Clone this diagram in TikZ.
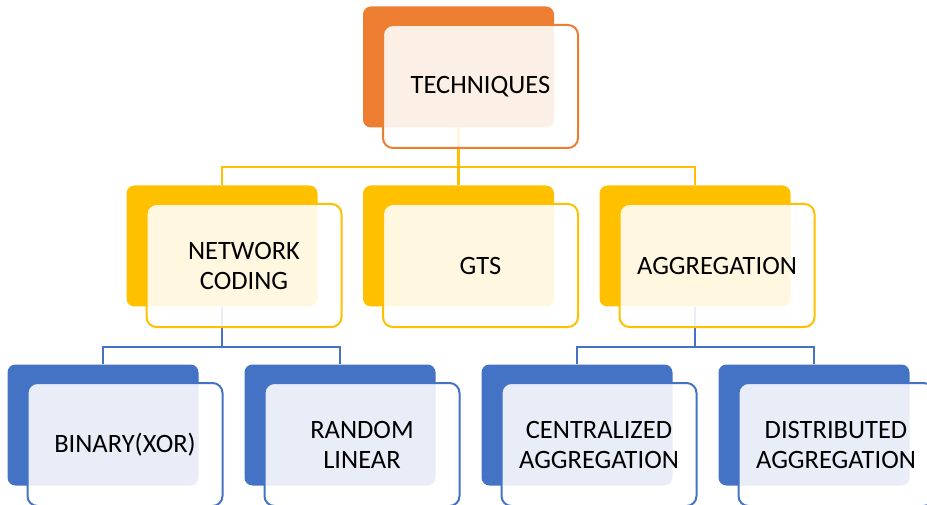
\documentclass[tikz,border=0pt]{standalone}
\usepackage{fontspec}
\setmainfont{Carlito}
\usetikzlibrary{positioning}
\definecolor{techorange}{HTML}{ED7D31}
\definecolor{techyellow}{HTML}{FFC000}
\definecolor{techblue}{HTML}{4472C4}
\tikzstyle{back} = [rectangle, rounded corners=8pt, inner sep=0pt,
    minimum width=191pt, minimum height=121pt]
\tikzstyle{front} = [rectangle, draw, line width=2pt, rounded corners=10pt,
    fill=white, fill opacity=0.88, text opacity=1, inner sep=0pt,
    minimum width=195pt, minimum height=123pt, align=center,
    font=\fontsize{26.5}{30}\selectfont, xshift=22pt, yshift=-19.5pt]
\tikzstyle{line} = [draw, line width=2.2pt]

\begin{document}
\begin{tikzpicture}[node distance=179pt, auto]
		\useasboundingbox (0,0) rectangle (927pt,-505pt);
		% back blocks
		\node [back, fill=techorange] (techb) at (458.5pt,-67pt) {};
		\node [back, fill=techyellow, below of=techb] (gtsb) {};
		\node [back, fill=techyellow, node distance=236.5pt, left of=gtsb] (ncb) {};
		\node [back, fill=techyellow, node distance=236.5pt, right of=gtsb] (aggb) {};
		\node [back, fill=techblue, below of=ncb, xshift=-119pt] (binb) {};
		\node [back, fill=techblue, below of=ncb, xshift=118pt] (randb) {};
		\node [back, fill=techblue, below of=aggb, xshift=-118pt] (centb) {};
		\node [back, fill=techblue, below of=aggb, xshift=119pt] (distb) {};
		
		\path [line, techyellow] (techb.south) -- ++(0,-39pt) -| (ncb.north);
		\path [line, techyellow] (techb.south) -- ++(0,-39pt) -| (gtsb.north);
		\path [line, techyellow] (techb.south) -- ++(0,-39pt) -| (aggb.north);
		\path [line, techblue] (ncb.south) -- ++(0,-40pt) -| (binb.north);
		\path [line, techblue] (ncb.south) -- ++(0,-40pt) -| (randb.north);
		\path [line, techblue] (aggb.south) -- ++(0,-40pt) -| (centb.north);
		\path [line, techblue] (aggb.south) -- ++(0,-40pt) -| (distb.north);
		
		% front blocks
		\node [front, draw=techorange] (tech) at (techb) {TECHNIQUES};
		\node [front, draw=techyellow] (nc) at (ncb) {NETWORK\\CODING};
		\node [front, draw=techyellow] (gts) at (gtsb) {GTS};
		\node [front, draw=techyellow] (agg) at (aggb) {AGGREGATION};
		\node [front, draw=techblue] (bin) at (binb) {BINARY(XOR)};
		\node [front, draw=techblue] (rand) at (randb) {RANDOM\\LINEAR};
		\node [front, draw=techblue] (cent) at (centb) {CENTRALIZED\\AGGREGATION};
		\node [front, draw=techblue] (dist) at (distb) {DISTRIBUTED\\AGGREGATION};
	\end{tikzpicture}
\end{document}
